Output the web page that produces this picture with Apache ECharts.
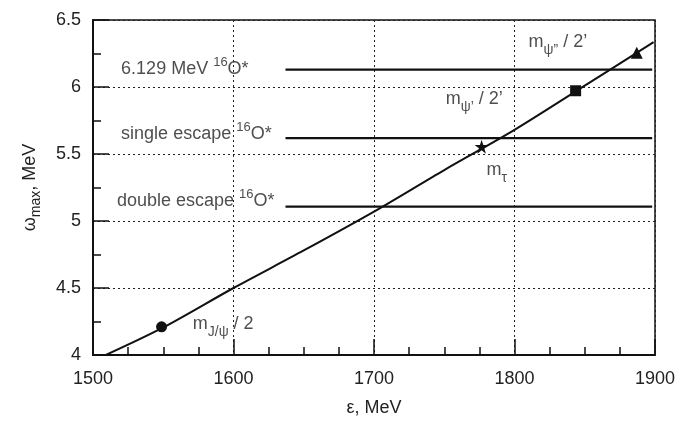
<!DOCTYPE html>
<html>
<head>
<meta charset="utf-8">
<script src="https://cdn.jsdelivr.net/npm/echarts@6/dist/echarts.min.js"></script>
<style>
  html, body { margin: 0; padding: 0; background: #fff; }
  #chart { width: 695px; height: 422px; }
</style>
</head>
<body>
<div id="chart"></div>
<script>
// kinematic line omega_max(eps)
const lineEps = [1506, 1549, 1600, 1650, 1700, 1750, 1800, 1850, 1899];
const lineOmega = [3.985, 4.2, 4.5, 4.78, 5.07, 5.38, 5.68, 6.01, 6.335];

// 16O* gamma lines
const levelNames = ['6.129 MeV', 'single escape', 'double escape'];
const levelOmega = [6.129, 5.618, 5.107];
const levelRange = [1637, 1898];

// resonance markers
const markerNames = ['J/psi', 'tau', "psi'", 'psi"'];
const markerEps = [1548.8, 1776.6, 1843.5, 1887];
const markerOmega = [4.21, 5.555, 5.972, 6.255];

// label anchors (data coords)
const levelLabelEps = [1520, 1520, 1517];
const levelLabelOmega = [6.15, 5.665, 5.165];
const markLabels = ['{b|m}{sub|J/ψ}{b| / 2}', '{b|m}{sub|τ}', '{b|m}{sub|ψ’}{b| / 2’}', '{b|m}{sub|ψ”}{b| / 2’}'];
const markLabelEps = [1571, 1780, 1751, 1810];
const markLabelOmega = [4.21, 5.36, 5.89, 6.31];

const xTicks = { min: 1500, max: 1900, interval: 100 };
const yTicks = { min: 4, max: 6.5, interval: 0.5 };

const font = '"Liberation Sans", Arial, Helvetica, sans-serif';
const ink = '#111';

const rich = {
  n: { fontSize: 18, lineHeight: 22, verticalAlign: 'bottom', color: '#222', fontFamily: font },
  b: { fontSize: 18, lineHeight: 24, verticalAlign: 'top', color: '#222', fontFamily: font },
  a: { fontSize: 18, lineHeight: 22, verticalAlign: 'top', color: '#222', fontFamily: font },
  sup: { fontSize: 13, lineHeight: 14, verticalAlign: 'top', color: '#222', fontFamily: font },
  sub: { fontSize: 14, lineHeight: 14, verticalAlign: 'bottom', color: '#222', fontFamily: font }
};

const starPath = 'path://M50,0 L61.8,36.2 L100,36.2 L69.1,58.8 L80.9,95.1 L50,72.4 L19.1,95.1 L30.9,58.8 L0,36.2 L38.2,36.2 Z';
const markerSymbols = ['circle', starPath, 'rect', 'triangle'];
const markerSizes = [11, 14, 11, 12];

const chart = echarts.init(document.getElementById('chart'));

const series = [];

series.push({
  type: 'line',
  data: lineEps.map((e, i) => [e, lineOmega[i]]),
  smooth: 0.3,
  symbol: 'none',
  lineStyle: { color: ink, width: 2 },
  z: 3
});

levelOmega.forEach((w, i) => {
  series.push({
    type: 'line',
    name: levelNames[i],
    data: [[levelRange[0], w], [levelRange[1], w]],
    symbol: 'none',
    lineStyle: { color: ink, width: 2.2 },
    z: 3
  });
});

series.push({
  type: 'scatter',
  data: markerEps.map((e, i) => ({
    name: markerNames[i],
    value: [e, markerOmega[i]],
    symbol: markerSymbols[i],
    symbolSize: markerSizes[i]
  })),
  itemStyle: { color: ink, opacity: 1 },
  z: 5
});

series.push({
  type: 'scatter',
  symbolSize: 0,
  silent: true,
  data: levelNames.map((n, i) => ({
    value: [levelLabelEps[i], levelLabelOmega[i]],
    label: { formatter: '{n|' + n + ' }{sup|16}{n|O*}' }
  })).concat(markLabels.map((t, i) => ({
    value: [markLabelEps[i], markLabelOmega[i]],
    label: { formatter: t }
  }))),
  label: { show: true, position: 'right', distance: 0, rich: rich },
  z: 6
});

const option = {
  animation: false,
  grid: {
    left: 93, right: 40, top: 20, bottom: 66,
    show: true, borderColor: ink, borderWidth: 1.5, backgroundColor: 'transparent'
  },
  xAxis: {
    type: 'value',
    min: xTicks.min, max: xTicks.max, interval: xTicks.interval,
    name: 'ε, MeV',
    nameLocation: 'middle',
    nameGap: 44,
    nameTextStyle: { fontSize: 18, color: '#222', fontFamily: font },
    axisLine: { show: true, lineStyle: { color: ink, width: 2 } },
    axisTick: { show: true, inside: true, length: 16, lineStyle: { color: ink, width: 1.5 } },
    minorTick: { show: true, splitNumber: 4, length: 8, lineStyle: { color: ink, width: 1.5 } },
    axisLabel: { fontSize: 18, color: '#222', margin: 15, fontFamily: font, formatter: v => String(v) },
    splitLine: { show: true, lineStyle: { color: '#222', width: 1, type: [2, 3] } }
  },
  yAxis: {
    type: 'value',
    min: yTicks.min, max: yTicks.max, interval: yTicks.interval,
    name: '{a|ω}{sub|max}{a|, MeV}',
    nameLocation: 'middle',
    nameGap: 50,
    nameTextStyle: { rich: rich },
    axisLine: { show: true, lineStyle: { color: ink, width: 2 } },
    axisTick: { show: true, inside: true, length: 16, lineStyle: { color: ink, width: 1.5 } },
    minorTick: { show: true, splitNumber: 2, length: 8, lineStyle: { color: ink, width: 1.5 } },
    axisLabel: { fontSize: 18, color: '#222', margin: 12, fontFamily: font, formatter: v => String(v) },
    splitLine: { show: true, lineStyle: { color: '#222', width: 1, type: [2, 3] } }
  },
  series: series
};

chart.setOption(option);
</script>
</body>
</html>
